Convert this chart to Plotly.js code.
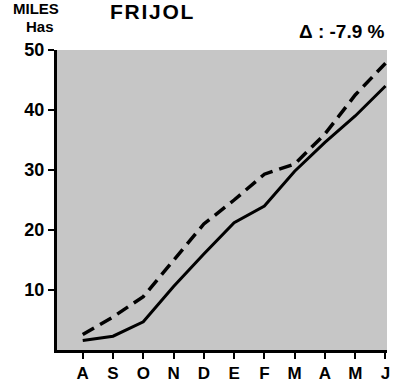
<!DOCTYPE html>
<html>
<head>
<meta charset="utf-8">
<script src="https://cdn.plot.ly/plotly-3.0.1.min.js"></script>
<style>html,body{margin:0;padding:0;background:#fff;}#chart{width:393px;height:386px;}</style>
</head>
<body>
<div id="chart"></div>
<script>
var months = ['A','S','O','N','D','E','F','M','A','M','J'];
var actual = [1.6, 2.3, 4.7, 10.6, 16.0, 21.2, 24.0, 29.8, 34.6, 39.0, 44.0];
var previous = [2.6, 5.5, 8.9, 15.0, 21.0, 25.0, 29.3, 31.0, 36.0, 42.5, 47.8];
var yTicks = [10, 20, 30, 40, 50];
var yTickText = ['10', '20', '30', '40', '50'];
var idx = months.map(function(_, i){ return i; });

var fam = 'Liberation Sans, Arial, sans-serif';

var traces = [
  {x: idx, y: previous, mode: 'lines', line: {color: '#000', width: 3.5, dash: '13px,7px'}, hoverinfo: 'skip'},
  {x: idx, y: actual, mode: 'lines', line: {color: '#000', width: 3}, hoverinfo: 'skip'}
];

var layout = {
  width: 393, height: 386,
  margin: {l: 57, r: 6, t: 50, b: 36},
  paper_bgcolor: '#fff',
  plot_bgcolor: '#c6c6c6',
  showlegend: false,
  xaxis: {
    range: [-0.85, 10.05],
    tickvals: idx, ticktext: months,
    showgrid: false, zeroline: false,
    showline: true, linecolor: '#000', linewidth: 3,
    ticks: 'outside', ticklen: 6, tickwidth: 2, tickcolor: '#000',
    tickfont: {family: fam, size: 17, color: '#000', weight: 'bold'},
    fixedrange: true
  },
  yaxis: {
    range: [0, 50],
    tickvals: yTicks, ticktext: yTickText,
    showgrid: false, zeroline: false,
    showline: true, linecolor: '#000', linewidth: 3,
    ticks: 'outside', ticklen: 6, tickwidth: 2, tickcolor: '#000',
    tickfont: {family: fam, size: 18, color: '#000', weight: 'bold'},
    fixedrange: true
  },
  annotations: [
    {text: 'MILES', xref: 'paper', yref: 'paper', x: -0.14, y: 1.138, xanchor: 'left', yanchor: 'middle', showarrow: false,
     font: {family: fam, size: 15, color: '#000', weight: 'bold'}},
    {text: 'Has', xref: 'paper', yref: 'paper', x: -0.1, y: 1.078, xanchor: 'left', yanchor: 'middle', showarrow: false,
     font: {family: fam, size: 15, color: '#000', weight: 'bold'}},
    {text: 'F\u200AR\u200AI\u200AJ\u200AO\u200AL', xref: 'paper', yref: 'paper', x: 0.155, y: 1.13, xanchor: 'left', yanchor: 'middle', showarrow: false,
     font: {family: fam, size: 21, color: '#000', weight: 'bold'}},
    {text: 'Δ : -7.9 %', xref: 'paper', yref: 'paper', x: 1.0, y: 1.063, xanchor: 'right', yanchor: 'middle', showarrow: false,
     font: {family: fam, size: 19, color: '#000', weight: 'bold'}}
  ]
};

Plotly.newPlot('chart', traces, layout, {displayModeBar: false, staticPlot: true});
</script>
</body>
</html>
